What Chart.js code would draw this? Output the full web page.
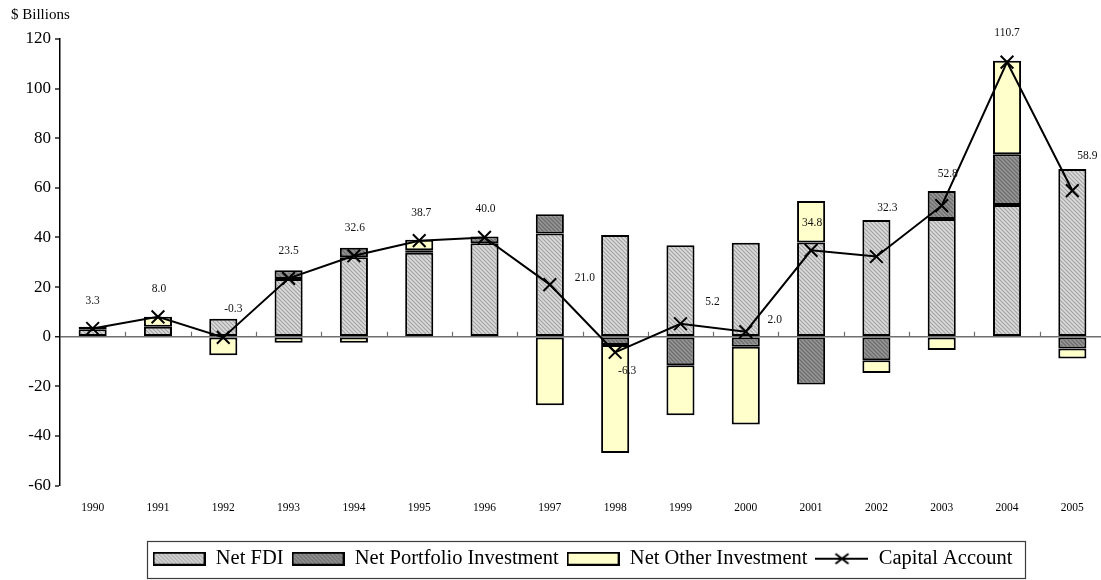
<!DOCTYPE html>
<html>
<head>
<meta charset="utf-8">
<script src="https://cdn.jsdelivr.net/npm/chart.js@4.4.1/dist/chart.umd.min.js"></script>
<style>
  html, body { margin: 0; padding: 0; background: #ffffff; overflow: hidden; }
  #wrap { width: 1101px; height: 580px; overflow: hidden; }
  #chart { display: block; }
</style>
</head>
<body>
<div id="wrap"><canvas id="chart" width="1116" height="580"></canvas></div>
<script>
// Capital account components, $ billions
const years = ['1990', '1991', '1992', '1993', '1994', '1995', '1996', '1997',
               '1998', '1999', '2000', '2001', '2002', '2003', '2004', '2005'];
const netFDI = [3.0, 4.0, 7.2, 23.2, 32.0, 33.8, 37.7, 41.6, 41.0, 36.9, 37.9, 38.0, 47.0, 47.4, 53.1, 67.6];
const netPortfolio = [1.0, null, null, 3.6, 3.8, 1.0, 2.7, 7.8, -3.4, -11.5, -4.1, -19.3, -9.5, 11.3, 20.4, -4.8];
const netOther = [null, 4.0, -7.5, -2.5, -2.5, 4.3, null, -27.6, -43.5, -20.2, -31.3, 16.7, -5.1, -5.4, 37.7, -4.0];
const capitalAccount = [3.3, 8.0, -0.3, 23.5, 32.6, 38.7, 40.0, 21.0, -6.3, 5.2, 2.0, 34.8, 32.3, 52.8, 110.7, 58.9];
const yMin = -60;
const yMax = 120;
const yStep = 20;

// Where each capital-account value label sits relative to its marker [dx, dy]
const labelOffsets = [[0, -27], [1, -28], [10, -28], [0, -27], [1, -28], [2, -28], [1, -28], [35, -7],
                      [12, 19], [32, -22], [29, -12], [1, -27], [11, -49], [6, -32], [0, -29], [15, -35]];

const SERIF = '"Liberation Serif", "Times New Roman", serif';

function makePattern(base, dark, light) {
  const c = document.createElement('canvas');
  c.width = 4; c.height = 4;
  const g = c.getContext('2d');
  g.fillStyle = base; g.fillRect(0, 0, 4, 4);
  g.fillStyle = dark;
  for (let i = 0; i < 4; i++) g.fillRect(i, i % 4, 1, 1);
  g.fillStyle = light;
  for (let i = 0; i < 4; i++) g.fillRect(i, (i + 2) % 4, 1, 1);
  return g.createPattern(c, 'repeat');
}

const fdiFill = makePattern('#c8c8c8', '#a6a6a6', '#dcdcdc');
const portFill = makePattern('#858585', '#6c6c6c', '#969696');
const otherFill = '#ffffcc';

function swatchBox(fill) {
  const c = document.createElement('canvas');
  c.width = 53; c.height = 14;
  const g = c.getContext('2d');
  g.fillStyle = fill; g.fillRect(1, 1, 51, 12);
  g.strokeStyle = '#000'; g.lineWidth = 2;
  g.strokeRect(1, 1, 51, 12);
  return c;
}
function swatchLine() {
  const c = document.createElement('canvas');
  c.width = 53; c.height = 14;
  const g = c.getContext('2d');
  g.strokeStyle = '#000'; g.lineWidth = 2;
  g.beginPath(); g.moveTo(0, 7); g.lineTo(53, 7); g.stroke();
  g.beginPath();
  g.moveTo(20, 2); g.lineTo(33, 12);
  g.moveTo(33, 2); g.lineTo(20, 12);
  g.stroke();
  return c;
}
const swatches = [swatchBox(fdiFill), swatchBox(portFill), swatchBox(otherFill), swatchLine()];

// small upward ticks on the zero line between categories
const zeroTicks = {
  id: 'zeroTicks',
  beforeDatasetsDraw(chart) {
    const { ctx, scales: { x, y } } = chart;
    const y0 = y.getPixelForValue(0);
    ctx.save();
    ctx.strokeStyle = '#6f6f6f';
    ctx.lineWidth = 1.2;
    ctx.beginPath();
    for (let i = 1; i < years.length; i++) {
      const px = Math.round(x.getPixelForValue(i - 0.5)) + 0.5;
      ctx.moveTo(px, y0);
      ctx.lineTo(px, y0 - 5);
    }
    ctx.stroke();
    ctx.restore();
  }
};

// value labels for the capital account line
const valueLabels = {
  id: 'valueLabels',
  afterDatasetsDraw(chart) {
    const { ctx } = chart;
    const meta = chart.getDatasetMeta(3);
    ctx.save();
    ctx.font = '11.5px ' + SERIF;
    ctx.fillStyle = '#111';
    ctx.textAlign = 'center';
    ctx.textBaseline = 'middle';
    meta.data.forEach((pt, i) => {
      const [dx, dy] = labelOffsets[i];
      ctx.fillText(capitalAccount[i].toFixed(1), pt.x + dx, pt.y + dy);
    });
    ctx.restore();
  }
};

// frame around the legend row
const legendFrame = {
  id: 'legendFrame',
  afterDraw(chart) {
    const hb = chart.legend.legendHitBoxes;
    if (!hb || !hb.length) return;
    const left = Math.min(...hb.map(h => h.left)) - 6;
    const right = Math.max(...hb.map(h => h.left + h.width)) + 12;
    const cy = hb[0].top + hb[0].height / 2;
    const { ctx } = chart;
    ctx.save();
    ctx.strokeStyle = '#3c3c3c';
    ctx.lineWidth = 1.2;
    ctx.strokeRect(Math.round(left) + 0.5, Math.round(cy - 18) + 0.5, Math.round(right - left), 37);
    ctx.restore();
  }
};

new Chart(document.getElementById('chart'), {
  type: 'bar',
  data: {
    labels: years,
    datasets: [
      { label: 'Net FDI', data: netFDI, backgroundColor: fdiFill, borderColor: '#000',
        borderWidth: 2, borderSkipped: false, order: 1 },
      { label: 'Net Portfolio Investment', data: netPortfolio, backgroundColor: portFill, borderColor: '#000',
        borderWidth: 2, borderSkipped: false, order: 1 },
      { label: 'Net Other Investment', data: netOther, backgroundColor: otherFill, borderColor: '#000',
        borderWidth: 2, borderSkipped: false, order: 1 },
      { type: 'line', label: 'Capital Account', data: capitalAccount, stack: 'ca',
        borderColor: '#000', borderWidth: 2, tension: 0, fill: false,
        pointStyle: 'crossRot', pointRadius: 9, pointBorderWidth: 2,
        pointBorderColor: '#000', pointBackgroundColor: '#000', order: 0 }
    ]
  },
  options: {
    responsive: false,
    animation: false,
    devicePixelRatio: 1,
    layout: { padding: { left: 11, right: 0, top: 0, bottom: 1 } },
    datasets: { bar: { categoryPercentage: 1, barPercentage: 0.43 } },
    scales: {
      x: {
        stacked: true,
        grid: { display: false, drawTicks: false },
        border: { display: false },
        ticks: { color: '#000', font: { family: SERIF, size: 11.5 }, padding: 16, maxRotation: 0 },
        afterFit(s) { s.height = 55; s.paddingLeft = 0; s.paddingRight = 0; }
      },
      y: {
        stacked: true,
        min: yMin, max: yMax,
        ticks: { stepSize: yStep, color: '#000', font: { family: SERIF, size: 17 }, padding: 4 },
        grid: {
          drawOnChartArea: true,
          color: c => (c.tick && c.tick.value === 0 ? '#6f6f6f' : 'rgba(0,0,0,0)'),
          lineWidth: c => (c.tick && c.tick.value === 0 ? 1.5 : 0),
          tickColor: '#000', tickLength: 5, tickWidth: 1.3
        },
        border: { display: true, color: '#000', width: 1.5 },
        afterFit(s) { s.width = 49; }
      }
    },
    plugins: {
      title: {
        display: true, text: '$ Billions', align: 'start', color: '#000',
        font: { family: SERIF, size: 15, weight: 'normal' },
        padding: { top: 6, bottom: 15 }
      },
      legend: {
        display: true, position: 'bottom', fullSize: false,
        labels: {
          color: '#000', font: { family: SERIF, size: 20.5 },
          usePointStyle: true, pointStyleWidth: 53, boxHeight: 14, padding: 8,
          sort: (a, b) => a.datasetIndex - b.datasetIndex,
          generateLabels(chart) {
            const items = Chart.defaults.plugins.legend.labels.generateLabels(chart);
            items.forEach(it => { it.pointStyle = swatches[it.datasetIndex]; });
            return items;
          }
        }
      },
      tooltip: { enabled: false }
    }
  },
  plugins: [zeroTicks, valueLabels, legendFrame]
});
</script>
</body>
</html>
